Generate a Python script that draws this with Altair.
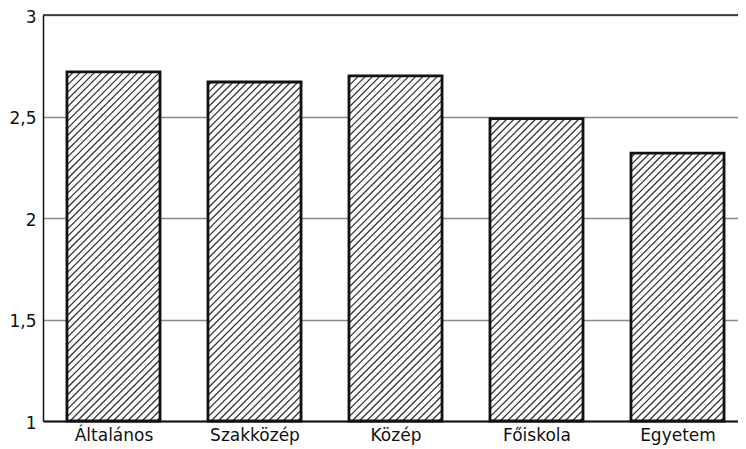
import altair as alt
import pandas as pd
import numpy as np

categories = ["Általános", "Szakközép", "Közép", "Főiskola", "Egyetem"]
values = [2.72, 2.67, 2.70, 2.49, 2.32]
y_ticks = [1, 1.5, 2, 2.5, 3]

# layout
W, H = 695, 406
XMIN = -0.5
STEP_PX = 141.0
XMAX = XMIN + W / STEP_PX
YMIN, YMAX = 1, 3
HALF = 0.33
px_x = W / (XMAX - XMIN)
px_y = H / (YMAX - YMIN)
HATCH = 7.2

bars = pd.DataFrame({
    "pos": list(range(len(categories))),
    "cat": categories,
    "v": values,
})
bars["x0"] = bars["pos"] - HALF
bars["x1"] = bars["pos"] + HALF
bars["base"] = YMIN

# hatch lines derived from bar extents (45 degree in screen space)
rows = []
for i, v in enumerate(values):
    bw = 2 * HALF * px_x
    bh = (v - YMIN) * px_y
    c = -bw + HATCH / 2
    while c < bh:
        xs = max(0.0, -c)
        xe = min(bw, bh - c)
        if xe > xs:
            rows.append({
                "hx": (i - HALF) + xs / px_x,
                "hx2": (i - HALF) + xe / px_x,
                "hy": YMIN + (xs + c) / px_y,
                "hy2": YMIN + (xe + c) / px_y,
            })
        c += HATCH
hatch = pd.DataFrame(rows)

xscale = alt.Scale(domain=[XMIN, XMAX], nice=False, zero=False)
yscale = alt.Scale(domain=[YMIN, YMAX], nice=False, zero=False)

label_expr = "[" + ",".join("'" + c + "'" for c in categories) + "][datum.value]"

base_x = alt.X("x0:Q", scale=xscale, axis=alt.Axis(
    values=list(range(len(categories))), labelExpr=label_expr, title=None,
    grid=False, ticks=False, domain=True, domainColor="#111", domainWidth=2,
    labelFont="DejaVu Sans", labelFontSize=17, labelColor="#111", labelPadding=6))
base_y = alt.Y("base:Q", scale=yscale, axis=alt.Axis(
    values=y_ticks, format="~g", labelExpr="replace(datum.label, '.', ',')",
    title=None, grid=True, gridColor="#888", gridWidth=1.3, ticks=False,
    domain=True, domainColor="#111", domainWidth=1.5, labelOffset=2,
    labelFont="DejaVu Sans", labelFontSize=17, labelColor="#111", labelPadding=7))

fill_layer = alt.Chart(bars).mark_bar(color="white", stroke=None).encode(
    x=base_x, x2="x1:Q", y=base_y, y2="v:Q")

hatch_layer = alt.Chart(hatch).mark_rule(color="#333", strokeWidth=1.25).encode(
    x=alt.X("hx:Q", scale=xscale), x2="hx2:Q",
    y=alt.Y("hy:Q", scale=yscale), y2="hy2:Q")

outline_layer = alt.Chart(bars).mark_bar(fill=None, stroke="#111", strokeWidth=2.8).encode(
    x=alt.X("x0:Q", scale=xscale), x2="x1:Q",
    y=alt.Y("base:Q", scale=yscale), y2="v:Q")

top_line = alt.Chart(pd.DataFrame({"t": [YMAX]})).mark_rule(color="#222", strokeWidth=1.6).encode(
    y=alt.Y("t:Q", scale=yscale))

chart = alt.layer(fill_layer, hatch_layer, outline_layer, top_line).properties(
    width=W, height=H,
    autosize=alt.AutoSizeParams(type="none"),
    padding={"left": 35, "top": 7, "right": 0, "bottom": 26},
).configure_view(stroke=None).configure(background="white")

chart.save("out.html", embed_options={"renderer": "svg", "actions": False})
